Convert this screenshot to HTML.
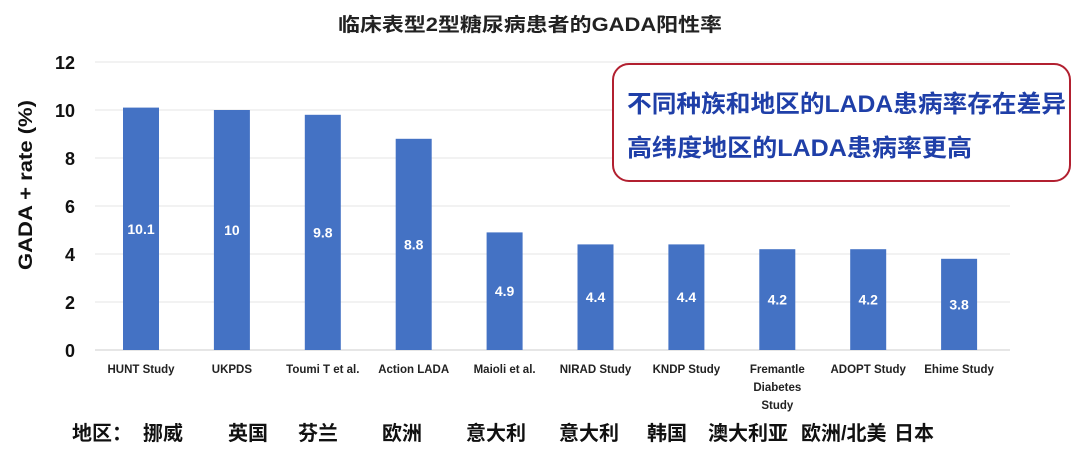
<!DOCTYPE html>
<html><head><meta charset="utf-8"><style>
body{margin:0;background:#fff;width:1080px;height:449px;overflow:hidden;font-family:"Liberation Sans","Noto Sans CJK SC",sans-serif}
</style></head><body>
<svg id="c" width="1080" height="449" xmlns="http://www.w3.org/2000/svg">
<text x="338" y="31" textLength="384" lengthAdjust="spacingAndGlyphs" font-size="19" font-weight="bold" fill="#222" font-family="Liberation Sans, Noto Sans CJK SC, sans-serif">临床表型2型糖尿病患者的GADA阳性率</text>
<text transform="translate(32,270) rotate(-90)" textLength="170" lengthAdjust="spacingAndGlyphs" font-size="19" font-weight="bold" fill="#111">GADA + rate (%)</text>
<g id="grid"></g><g id="bars"></g><g id="xl"></g>
<rect x="613" y="64" width="457" height="117" rx="16" fill="#fff" stroke="#b22030" stroke-width="2"/>
<text x="627" y="112" textLength="439" lengthAdjust="spacingAndGlyphs" font-size="24" font-weight="bold" fill="#1f3fa8" font-family="Liberation Sans, Noto Sans CJK SC, sans-serif">不同种族和地区的LADA患病率存在差异</text>
<text x="627" y="156" textLength="345" lengthAdjust="spacingAndGlyphs" font-size="24" font-weight="bold" fill="#1f3fa8" font-family="Liberation Sans, Noto Sans CJK SC, sans-serif">高纬度地区的LADA患病率更高</text>
<g id="regions" font-size="20" font-weight="bold" fill="#111" font-family="Liberation Sans, Noto Sans CJK SC, sans-serif"></g>
</svg>
<script>
const categories=["HUNT Study","UKPDS","Toumi T et al.","Action LADA","Maioli et al.","NIRAD Study","KNDP Study","Fremantle|Diabetes|Study","ADOPT Study","Ehime Study"];
const values=[10.1,10,9.8,8.8,4.9,4.4,4.4,4.2,4.2,3.8];
const valueLabels=["10.1","10","9.8","8.8","4.9","4.4","4.4","4.2","4.2","3.8"];
const yTicks=[0,2,4,6,8,10,12];
const regions=["地区：","挪威","英国","芬兰","欧洲","意大利","意大利","韩国","澳大利亚","欧洲/北美","日本"];
const regionX=[72,143,228,298,382,466,559,647,708,801,894];
const NS="http://www.w3.org/2000/svg";
const y=v=>350-v*24;
const x=i=>141+i*90.9;
function mk(t,a,p){const e=document.createElementNS(NS,t);for(const k in a)e.setAttribute(k,a[k]);p.appendChild(e);return e;}
const g=document.getElementById('grid');
yTicks.forEach(t=>{
 const l=mk('line',{x1:95,x2:1010,y1:y(t),y2:y(t),stroke:t==0?'#ccc':'#e4e4e4','stroke-width':1},g);
 
 
 const tx=mk('text',{x:75,y:y(t)+7,'text-anchor':'end','font-size':18,'font-weight':'bold',fill:'#111'},g);
 tx.textContent=t;
 
 
});
const b=document.getElementById('bars'),xl=document.getElementById('xl');
values.forEach((v,i)=>{
 const r=mk('rect',{x:x(i)-18,y:y(v),width:36,height:350-y(v),fill:'#4472c4'},b);
 
 
 const t=mk('text',{x:x(i),y:y(v/2)+5,'text-anchor':'middle','font-size':14,'font-weight':'bold',fill:'#fff'},b);
 t.textContent=valueLabels[i];
 
 
 categories[i].split('|').forEach((s,j)=>{
  const c=mk('text',{x:x(i),y:373+j*18,'text-anchor':'middle','font-size':11.5,'font-weight':'bold',fill:'#222'},xl);
  c.textContent=s;
  
  
 });
});
const rg=document.getElementById('regions');
regions.forEach((s,i)=>{
 const t=mk('text',{x:regionX[i],y:440},rg);
 t.textContent=s;
 
 
});
</script>
</body></html>
